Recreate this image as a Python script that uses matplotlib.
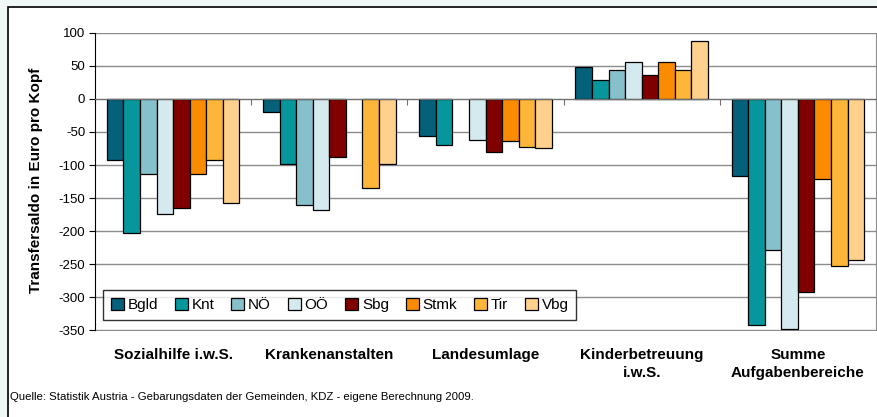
import numpy as np
import matplotlib
matplotlib.use("Agg")
import matplotlib.pyplot as plt
from matplotlib.patches import Rectangle

categories = ["Sozialhilfe i.w.S.", "Krankenanstalten", "Landesumlage",
              "Kinderbetreuung\ni.w.S.", "Summe\nAufgabenbereiche"]
series = ["Bgld", "Knt", "NÖ", "OÖ", "Sbg", "Stmk", "Tir", "Vbg"]
values = {
    "Bgld": [-92, -20, -56, 48, -117],
    "Knt":  [-202, -98, -70, 28, -341],
    "NÖ":   [-114, -160, np.nan, 44, -229],
    "OÖ":   [-174, -168, -62, 56, -347],
    "Sbg":  [-165, -88, -80, 36, -292],
    "Stmk": [-114, np.nan, -64, 56, -121],
    "Tir":  [-92, -135, -72, 44, -253],
    "Vbg":  [-157, -99, -74, 88, -243],
}
colors = ["#05607A", "#07969C", "#86C1CB", "#D5EAEE", "#800000",
          "#FB8B00", "#FDB53A", "#FFD18C"]
yticks = [100, 50, 0, -50, -100, -150, -200, -250, -300, -350]
ylabel = "Transfersaldo in Euro pro Kopf"
source = "Quelle: Statistik Austria - Gebarungsdaten der Gemeinden, KDZ - eigene Berechnung 2009."

plt.rcParams['font.family'] = ['Liberation Sans', 'DejaVu Sans']

W, H = 877, 417
fig = plt.figure(figsize=(W / 100, H / 100), dpi=100)
fig.patch.set_facecolor("#F0F7F7")

# outer white box with black border
bg = Rectangle((7.5 / W, 1 - 420 / H), (885 - 7.5) / W, (420 - 6.5) / H,
               transform=fig.transFigure, facecolor="white",
               edgecolor="black", linewidth=1.2, zorder=-10)
fig.patches.append(bg)

left, right, top, bottom = 95, 876, 32.7, 330.5
ax = fig.add_axes([left / W, 1 - bottom / H, (right - left) / W, (bottom - top) / H])
ax.set_zorder(1)
ax.set_facecolor("white")

n = len(series)
bw = 0.106
x = np.arange(len(categories)) + 0.5
for i, s in enumerate(series):
    v = np.array(values[s], dtype=float)
    ax.bar(x + (i - (n - 1) / 2) * bw, v, width=bw, color=colors[i],
           edgecolor="black", linewidth=0.9, zorder=3, label=s)

ax.set_xlim(0, len(categories))
ax.set_ylim(-350, 100)
ax.set_yticks(yticks)
ax.set_yticklabels([str(t) for t in yticks], fontsize=9.5)
for t in yticks:
    ax.axhline(t, color="#8C8C8C", linewidth=1, zorder=1)

ax.spines["left"].set_color("black")
ax.spines["right"].set_color("#8C8C8C")
ax.spines["top"].set_visible(False)
ax.spines["bottom"].set_position(("data", 0))
ax.spines["bottom"].set_color("#707070")
ax.spines["bottom"].set_zorder(4)
ax.set_xticks(np.arange(len(categories) + 1))
ax.set_xticklabels([])
ax.tick_params(axis="x", direction="out", length=4, color="#707070")
ax.tick_params(axis="y", direction="out", length=4, color="black", pad=3)

fig.text(36 / W, 1 - 180 / H, ylabel, rotation=90, ha="center", va="center",
         fontsize=11, fontweight="bold", zorder=2)

for xi, c in zip(x, categories):
    px = left + xi / len(categories) * (right - left)
    fig.text(px / W, 1 - 348 / H, c, ha="center", va="top", fontsize=11,
             fontweight="bold", multialignment="center", linespacing=1.35, zorder=2)

fig.text(10 / W, 1 - 397 / H, source, ha="left", va="center", fontsize=8.2, zorder=2)

leg = ax.legend(loc="upper left", bbox_to_anchor=(103 / W, 1 - 290 / H),
                bbox_transform=fig.transFigure, ncol=8, fontsize=11,
                frameon=True, fancybox=False, borderaxespad=0,
                handlelength=0.85, handleheight=0.85, handletextpad=0.25,
                columnspacing=1.1, borderpad=0.5)
leg.get_frame().set_edgecolor("black")
leg.get_frame().set_linewidth(1)
leg.set_zorder(5)

fig.savefig("out.png", dpi=100, facecolor=fig.get_facecolor())
